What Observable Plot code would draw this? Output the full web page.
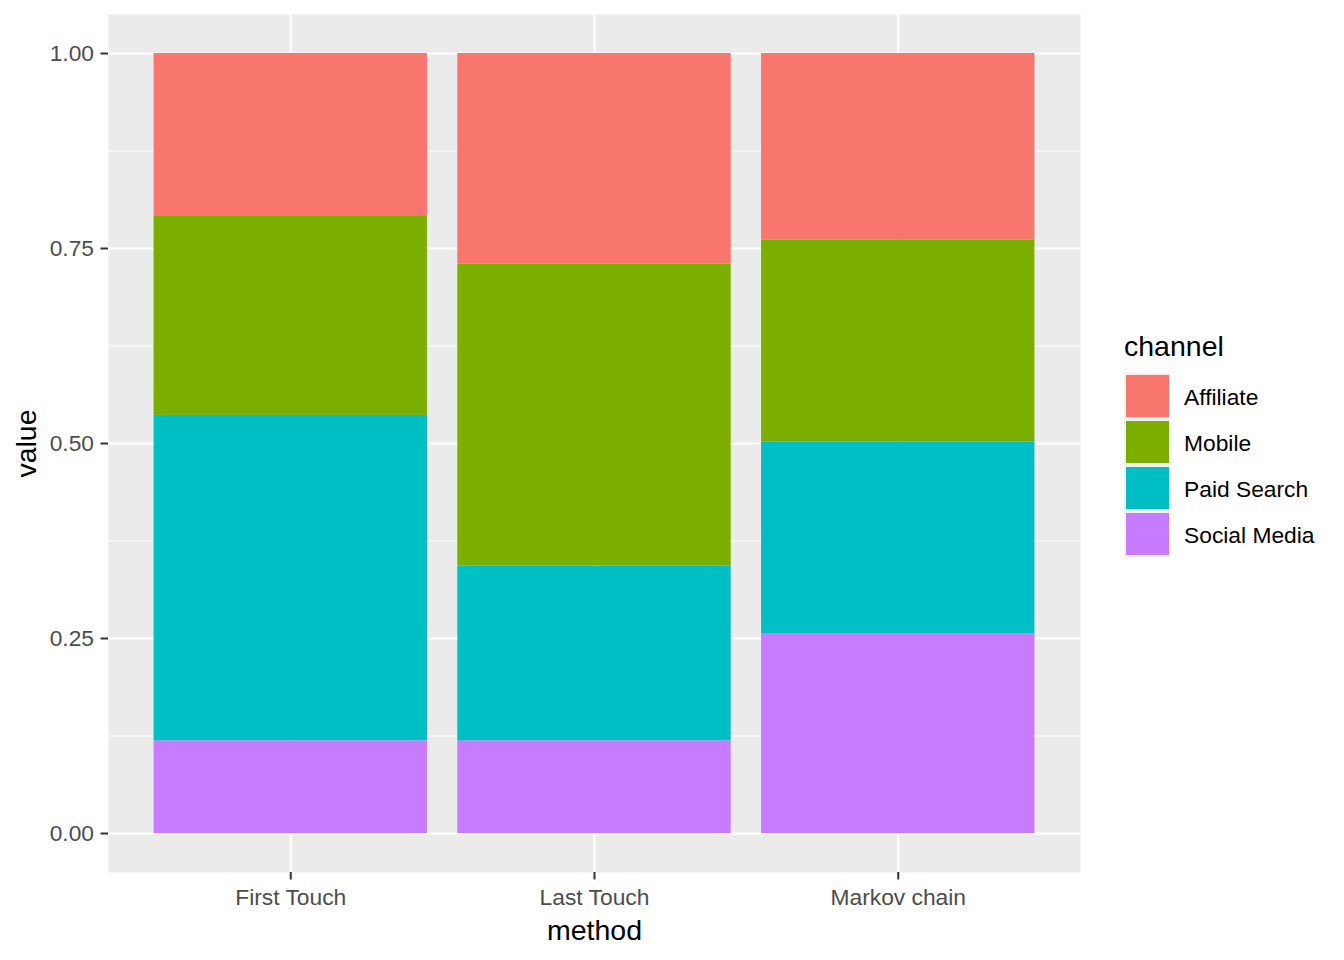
<!DOCTYPE html>
<html>
<head>
<meta charset="utf-8">
<script src="https://cdn.jsdelivr.net/npm/d3@7"></script>
<script src="https://cdn.jsdelivr.net/npm/@observablehq/plot@0.6"></script>
<style>
  html, body { margin: 0; padding: 0; background: #fff; }
  #wrap { position: relative; width: 1344px; height: 960px; font-family: "Liberation Sans", Arial, sans-serif; }
  #legend { position: absolute; left: 1124px; top: 332px; }
  #legend .title { font-size: 28.5px; line-height: 28px; color: #000; margin-bottom: 13px; }
  #legend .row { display: flex; align-items: center; height: 46px; }
  #legend .key { width: 46px; height: 46px; background: #F2F2F2; display: flex; align-items: center; justify-content: center; }
  #legend .key div { width: 43px; height: 42px; }
  #legend .lab { font-size: 22.8px; margin-left: 14px; padding-top: 3px; color: #000; }
  g[aria-label="x-axis label"] text, g[aria-label="y-axis label"] text { font-size: 28.5px; fill: #000; }
</style>
</head>
<body>
<div id="wrap"><div id="plot"></div><div id="legend"></div></div>
<script>
const methods = ["First Touch", "Last Touch", "Markov chain"];
const channels = ["Affiliate", "Mobile", "Paid Search", "Social Media"];
const channelColors = ["#F8766D", "#7CAE00", "#00BFC4", "#C77CFF"];
const affiliate = [0.209, 0.270, 0.239];
const mobile = [0.255, 0.387, 0.259];
const paidSearch = [0.4175, 0.2245, 0.2465];
const socialMedia = [0.1185, 0.1185, 0.2555];
const yTicks = [0, 0.25, 0.5, 0.75, 1];
const yMinorTicks = [0.125, 0.375, 0.625, 0.875];

const seriesByChannel = {"Affiliate": affiliate, "Mobile": mobile, "Paid Search": paidSearch, "Social Media": socialMedia};
const data = [];
channels.forEach(c => methods.forEach((m, i) => data.push({method: m, channel: c, value: seriesByChannel[c][i]})));

const chart = Plot.plot({
  width: 1344,
  height: 960,
  marginLeft: 108,
  marginRight: 264,
  marginTop: 14,
  marginBottom: 88,
  style: {fontFamily: "Liberation Sans, Arial, sans-serif", background: "#fff"},
  x: {type: "band", domain: methods, paddingInner: 0.1, paddingOuter: 0.15, align: 0.5, round: false},
  y: {domain: [-0.05, 1.05]},
  color: {domain: channels, range: channelColors},
  marks: [
    Plot.frame({fill: "#EBEBEB", stroke: "none"}),
    Plot.gridY(yMinorTicks, {stroke: "#fff", strokeOpacity: 1, strokeWidth: 1.1}),
    Plot.gridY(yTicks, {stroke: "#fff", strokeOpacity: 1, strokeWidth: 2.1}),
    Plot.gridX(methods, {stroke: "#fff", strokeOpacity: 1, strokeWidth: 2.1}),
    Plot.barY(data, {x: "method", y: "value", fill: "channel", order: ["Social Media", "Paid Search", "Mobile", "Affiliate"]}),
    Plot.axisY(yTicks, {tickSize: 7.5, tickPadding: 7, tickFormat: d3.format(".2f"), fontSize: 22.8, stroke: "#333333", strokeWidth: 2, fill: "#4D4D4D", label: "value", labelAnchor: "center", labelOffset: 93, labelArrow: "none"}),
    Plot.axisX(methods, {tickSize: 7.5, tickPadding: 8.5, fontSize: 22.8, stroke: "#333333", strokeWidth: 2, fill: "#4D4D4D", label: "method", labelAnchor: "center", labelOffset: 67, labelArrow: "none"})
  ]
});
document.getElementById("plot").appendChild(chart);

const legend = document.getElementById("legend");
const t = document.createElement("div");
t.className = "title";
t.textContent = "channel";
legend.appendChild(t);
channels.forEach((c, i) => {
  const row = document.createElement("div");
  row.className = "row";
  const key = document.createElement("div");
  key.className = "key";
  const sw = document.createElement("div");
  sw.style.background = channelColors[i];
  key.appendChild(sw);
  const lab = document.createElement("div");
  lab.className = "lab";
  lab.textContent = c;
  row.appendChild(key);
  row.appendChild(lab);
  legend.appendChild(row);
});
</script>
</body>
</html>
